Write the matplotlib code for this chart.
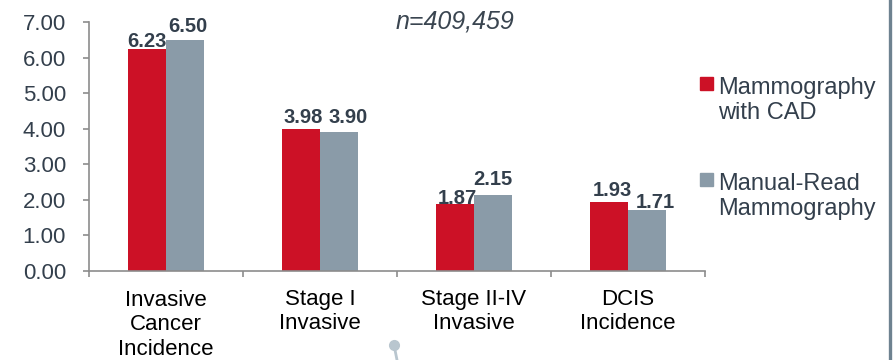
import matplotlib
matplotlib.use('Agg')
import matplotlib.pyplot as plt
from matplotlib.lines import Line2D
from matplotlib.patches import Rectangle
import numpy as np

plt.rcParams['font.family'] = ['Liberation Sans', 'DejaVu Sans']

categories = ['Invasive\nCancer\nIncidence', 'Stage I\nInvasive', 'Stage II-IV\nInvasive', 'DCIS\nIncidence']
cad_values = [6.23, 3.98, 1.87, 1.93]
manual_values = [6.50, 3.90, 2.15, 1.71]
series_names = ['Mammography\nwith CAD', 'Manual-Read\nMammography']
yticks = [0, 1, 2, 3, 4, 5, 6, 7]

# label nudges in pixels (dx, dy above bar top), as placed in the original
cad_label_nudge = [(0, 2.6), (2, 6), (2, 0), (3.7, 6)]
manual_label_nudge = [(2.5, 7.7), (8.7, 9), (0, 10), (8, 2.4)]

red = '#CC1126'
grey = '#8A9BA8'
text_dark = '#333F4C'
axis_grey = '#8C8C8C'

W, H = 894, 360
fig = plt.figure(figsize=(W / 100, H / 100), dpi=100)
ax = fig.add_axes([89 / W, 1 - 271 / H, 616 / W, 249 / H])

x = np.arange(len(categories))
w = 0.247
ax.bar(x - w / 2, cad_values, w, color=red)
ax.bar(x + w / 2, manual_values, w, color=grey)

px = 0.72  # points per pixel at dpi 100
for xs, vals, nudges in [(x - w / 2, cad_values, cad_label_nudge),
                         (x + w / 2, manual_values, manual_label_nudge)]:
    for xi, v, (dx, dy) in zip(xs, vals, nudges):
        ax.annotate('%.2f' % v, (xi, v), xytext=(dx * px, dy * px),
                    textcoords='offset points', ha='center', va='baseline',
                    fontsize=14.5, fontweight='bold', color=text_dark)

ax.set_xlim(-0.5, len(categories) - 0.5)
ax.set_ylim(0, 7)
ax.set_yticks(yticks)
ax.set_yticklabels(['%.2f' % t for t in yticks], fontsize=16, color=text_dark)

# category labels sit between boundary ticks
ax.set_xticks(np.arange(len(categories) + 1) - 0.5)
ax.set_xticklabels([])
ax.tick_params(axis='x', length=4.5, width=1.2, color=axis_grey, direction='out')
ax.tick_params(axis='y', length=4.5, width=1.2, color=axis_grey, direction='out', pad=12)
line_step = 25.3
for xi, lab in zip(x, categories):
    nlines = lab.count('\n')
    # va='baseline' pins the last line, so step down from the first baseline
    ax.annotate(lab, (xi, 0), xytext=(0, -(33 + nlines * line_step) * px),
                textcoords='offset points', ha='center', va='baseline',
                fontsize=16, color='black', linespacing=1.22,
                multialignment='center')

for s in ['top', 'right']:
    ax.spines[s].set_visible(False)
for s in ['left', 'bottom']:
    ax.spines[s].set_color(axis_grey)
    ax.spines[s].set_linewidth(1.2)

fig.text(455 / W, 1 - 28 / H, 'n=409,459', ha='center', va='baseline', fontsize=18,
         style='italic', color='#3A4550')

# legend drawn by hand: marker beside the first line of each label
for name, col, top in [(series_names[0], red, 77), (series_names[1], grey, 173)]:
    fig.add_artist(Rectangle((700 / W, 1 - (top + 13) / H), 13 / W, 13 / H,
                             transform=fig.transFigure, color=col))
    fig.text(718 / W, 1 - (top + 15 + 27) / H, name, ha='left', va='baseline',
             fontsize=17, color=text_dark, linespacing=1.2)

# right edge rule and small pin decoration
fig.add_artist(Line2D([889.5 / W, 889.5 / W], [0, 1], transform=fig.transFigure,
                      color='#6E8290', linewidth=2.4))
fig.add_artist(Line2D([394 / W, 397 / W], [1 - 345 / H, 0], transform=fig.transFigure,
                      color='#B9C6CF', linewidth=2))
fig.add_artist(Line2D([394 / W], [1 - 345 / H], transform=fig.transFigure,
                      marker='o', markersize=7, color='#B9C6CF', linestyle='none'))

fig.savefig('out.png', dpi=100)
